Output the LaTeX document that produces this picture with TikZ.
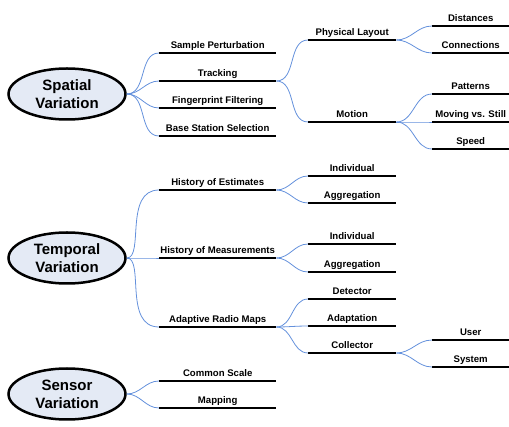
\documentclass[tikz,border=0pt]{standalone}
\usepackage{fontspec}
\setmainfont{Liberation Sans}
\usepackage{tikz}
\usetikzlibrary{shapes.geometric}

\definecolor{rootfill}{RGB}{228,234,245}
\definecolor{twigblue}{RGB}{100,145,220}

\tikzset{
	bar/.style={line width=2pt},
	twig/.style={draw=twigblue, line width=0.8pt},
	root/.style={ellipse, draw, line width=2.5pt, fill=rootfill, inner sep=0pt,
		minimum width=117pt, minimum height=51pt, align=center,
		font=\bfseries\fontsize{15}{18}\selectfont},
	leaf/.style={anchor=south west, inner xsep=0pt, inner ysep=0pt, text depth=4.5pt,
		font=\bfseries\fontsize{9.6}{11}\selectfont,
		append after command={(\tikzlastnode.south west) edge[bar] (\tikzlastnode.south east)}},
	topic/.style={leaf, minimum width=117pt},
	subtopic/.style={leaf, minimum width=88pt},
	detail/.style={leaf, minimum width=77pt}
}

\begin{document}
\begin{tikzpicture}[x=1pt,y=-1pt]
	\useasboundingbox (0,0) rectangle (509,427);
	% spatial
	\node[root] (spatial) at (67,94) {Spatial\\Variation};
	\node[topic] (sample) at (159,53) {Sample Perturbation};
	\node[topic] (tracking) at (159,81) {Tracking};
	\node[topic] (filtering) at (159,108) {Fingerprint Filtering};
	\node[topic] (station) at (159,136) {Base Station Selection};
	\node[subtopic] (layout) at (308,40) {Physical Layout};
	\node[subtopic] (motion) at (308,122) {Motion};
	\node[detail] (distances) at (432,26) {Distances};
	\node[detail] (connections) at (432,53) {Connections};
	\node[detail] (patterns) at (432,94) {Patterns};
	\node[detail] (moving) at (432,122) {Moving vs. Still};
	\node[detail] (speed) at (432,149) {Speed};
	% temporal
	\node[root] (temporal) at (67,258) {Temporal\\Variation};
	\node[topic] (estimates) at (159,190) {History of Estimates};
	\node[topic] (measurements) at (159,258) {History of Measurements};
	\node[topic] (adaptive) at (159,327) {Adaptive Radio Maps};
	\node[subtopic] (estindiv) at (308,176) {Individual};
	\node[subtopic] (estaggr) at (308,203) {Aggregation};
	\node[subtopic] (measindiv) at (308,244) {Individual};
	\node[subtopic] (measaggr) at (308,272) {Aggregation};
	\node[subtopic] (detector) at (308,299) {Detector};
	\node[subtopic] (adaptation) at (308,326) {Adaptation};
	\node[subtopic] (collector) at (308,353) {Collector};
	\node[detail] (user) at (432,340) {User};
	\node[detail] (system) at (432,367) {System};
	% sensor
	\node[root] (sensor) at (67,394) {Sensor\\Variation};
	\node[topic] (scale) at (159,381) {Common Scale};
	\node[topic] (mapping) at (159,408) {Mapping};

	\path[twig,out=0,in=180]
		(spatial.east) edge (sample.south west)
		(spatial.east) edge (tracking.south west)
		(spatial.east) edge (filtering.south west)
		(spatial.east) edge (station.south west)
		(tracking.south east) edge (layout.south west)
		(tracking.south east) edge (motion.south west)
		(layout.south east) edge (distances.south west)
		(layout.south east) edge (connections.south west)
		(motion.south east) edge (patterns.south west)
		(motion.south east) edge (moving.south west)
		(motion.south east) edge (speed.south west)
		(estimates.south east) edge (estindiv.south west)
		(estimates.south east) edge (estaggr.south west)
		(measurements.south east) edge (measindiv.south west)
		(measurements.south east) edge (measaggr.south west)
		(adaptive.south east) edge (detector.south west)
		(adaptive.south east) edge (adaptation.south west)
		(adaptive.south east) edge (collector.south west)
		(collector.south east) edge (user.south west)
		(collector.south east) edge (system.south west)
		(sensor.east) edge (scale.south west)
		(sensor.east) edge (mapping.south west);
	\path[twig,out=0,in=180,out looseness=0.6,in looseness=1.2]
		(temporal.east) edge (estimates.south west)
		(temporal.east) edge (measurements.south west)
		(temporal.east) edge (adaptive.south west);
\end{tikzpicture}
\end{document}
